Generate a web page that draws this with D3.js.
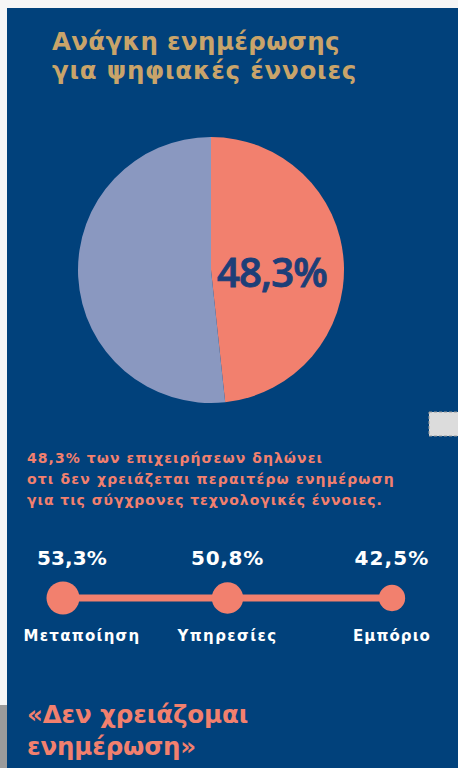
<!DOCTYPE html>
<html>
<head>
<meta charset="utf-8">
<script src="https://cdn.jsdelivr.net/npm/d3@7"></script>
<style>
  body { margin: 0; background: #f6f6f6; overflow: hidden; }
  svg { display: block; }
  text { font-family: "DejaVu Sans", "Noto Sans", sans-serif; }
</style>
</head>
<body>
<script>
// data
var pieLabels = ["Δεν χρειάζομαι ενημέρωση", "Χρειάζομαι ενημέρωση"];
var pieValues = [48.3, 51.7];

var sectors = ["Μεταποίηση", "Υπηρεσίες", "Εμπόριο"];
var sectorValues = [53.3, 50.8, 42.5];

var titleLines = ["Ανάγκη ενημέρωσης", "για ψηφιακές έννοιες"];
var noteLines = [
  "48,3% των επιχειρήσεων δηλώνει",
  "οτι δεν χρειάζεται περαιτέρω ενημέρωση",
  "για τις σύγχρονες τεχνολογικές έννοιες."
];
var quoteLines = ["«Δεν χρειάζομαι", "ενημέρωση»"];

var W = 458, H = 768;
var blue = "#01417b", salmon = "#f2806e", lilac = "#8a98c0", gold = "#c9a46a";

var fmt = function(v) { return d3.format(".1f")(v).replace(".", ",") + "%"; };

// spread letters so a line takes about the width it has in the original
function fit(sel, widths) {
  sel.each(function(d, i) {
    var t = d3.select(this), n = t.text().length;
    var len = this.getComputedTextLength();
    t.attr("letter-spacing", ((widths[i] - len) / n).toFixed(2));
  });
}

var svg = d3.select("body").append("svg")
  .attr("width", W).attr("height", H);

// panel + page bits
svg.append("rect").attr("x", 0).attr("y", 0).attr("width", W).attr("height", H).attr("fill", "#f6f6f6");
svg.append("rect").attr("x", 0).attr("y", 705).attr("width", 7).attr("height", H - 705).attr("fill", "#9b9b9b");
svg.append("rect").attr("x", 7).attr("y", 8).attr("width", W - 7).attr("height", H - 8).attr("fill", blue);
// little scrollbar-ish artifact on the right
svg.append("rect").attr("x", 429).attr("y", 412).attr("width", 32).attr("height", 24)
  .attr("fill", "#dcdcdc").attr("stroke", "#9a9a9a").attr("stroke-dasharray", "3,2");

// title
svg.append("g").selectAll("text")
  .data(titleLines).enter().append("text")
  .attr("x", 52)
  .attr("y", (d, i) => 50 + i * 29)
  .attr("fill", gold)
  .attr("font-size", 24.5)
  .attr("font-weight", 700)
  .text(d => d)
  .call(fit, [288, 305]);

// pie
var cx = 211, cy = 270, r = 133;
var pie = d3.pie().sort(null).value(d => d);
var arc = d3.arc().innerRadius(0).outerRadius(r);
var pg = svg.append("g").attr("transform", "translate(" + cx + "," + cy + ")");
pg.selectAll("path")
  .data(pie(pieValues)).enter().append("path")
  .attr("d", arc)
  .attr("fill", (d, i) => i == 0 ? salmon : lilac);

var first = pie(pieValues)[0];
pg.append("text")
  .attr("x", 61)
  .attr("y", 1)
  .attr("text-anchor", "middle")
  .attr("dominant-baseline", "central")
  .attr("fill", "#1d3f78")
  .attr("stroke", "#1d3f78")
  .attr("stroke-width", 0.9)
  .style("font-family", "'Open Sans', sans-serif")
  .attr("font-size", 40)
  .attr("font-weight", 600)
  .text(fmt(first.data))
  .call(fit, [110]);

// note
svg.append("g").selectAll("text")
  .data(noteLines).enter().append("text")
  .attr("x", 27)
  .attr("y", (d, i) => 463 + i * 21)
  .attr("fill", salmon)
  .attr("font-size", 14)
  .attr("font-weight", 700)
  .text(d => d)
  .call(fit, [296, 368, 356]);

// sector dot strip
var x = d3.scalePoint().domain(sectors).range([63, 392]);
var rs = d3.scaleLinear().domain([0, 53.3]).range([0, 16.5]);
var lineY = 598;

svg.append("line")
  .attr("x1", x(sectors[0])).attr("x2", x(sectors[sectors.length - 1]))
  .attr("y1", lineY).attr("y2", lineY)
  .attr("stroke", salmon).attr("stroke-width", 7);

var sg = svg.append("g").selectAll("g")
  .data(sectors).enter().append("g")
  .attr("transform", d => "translate(" + x(d) + "," + lineY + ")");

sg.append("circle")
  .attr("r", (d, i) => rs(sectorValues[i]))
  .attr("fill", salmon);

sg.append("text")
  .attr("x", (d, i) => i == 0 ? 9 : 0)
  .attr("y", -33)
  .attr("text-anchor", "middle")
  .attr("fill", "#fff")
  .attr("font-size", 20)
  .attr("font-weight", 700)
  .text((d, i) => fmt(sectorValues[i]))
  .call(fit, [70, 73, 75]);

sg.append("text")
  .attr("x", (d, i) => i == 0 ? 19 : 0)
  .attr("y", 43)
  .attr("text-anchor", "middle")
  .attr("fill", "#fff")
  .attr("font-size", 15)
  .attr("font-weight", 700)
  .text(d => d)
  .call(fit, [117, 100, 78]);

// quote
svg.append("g").selectAll("text")
  .data(quoteLines).enter().append("text")
  .attr("x", 27)
  .attr("y", (d, i) => 723 + i * 32)
  .attr("fill", salmon)
  .attr("font-size", 24.5)
  .attr("font-weight", 700)
  .text(d => d)
  .call(fit, [221, 169]);
</script>
</body>
</html>
